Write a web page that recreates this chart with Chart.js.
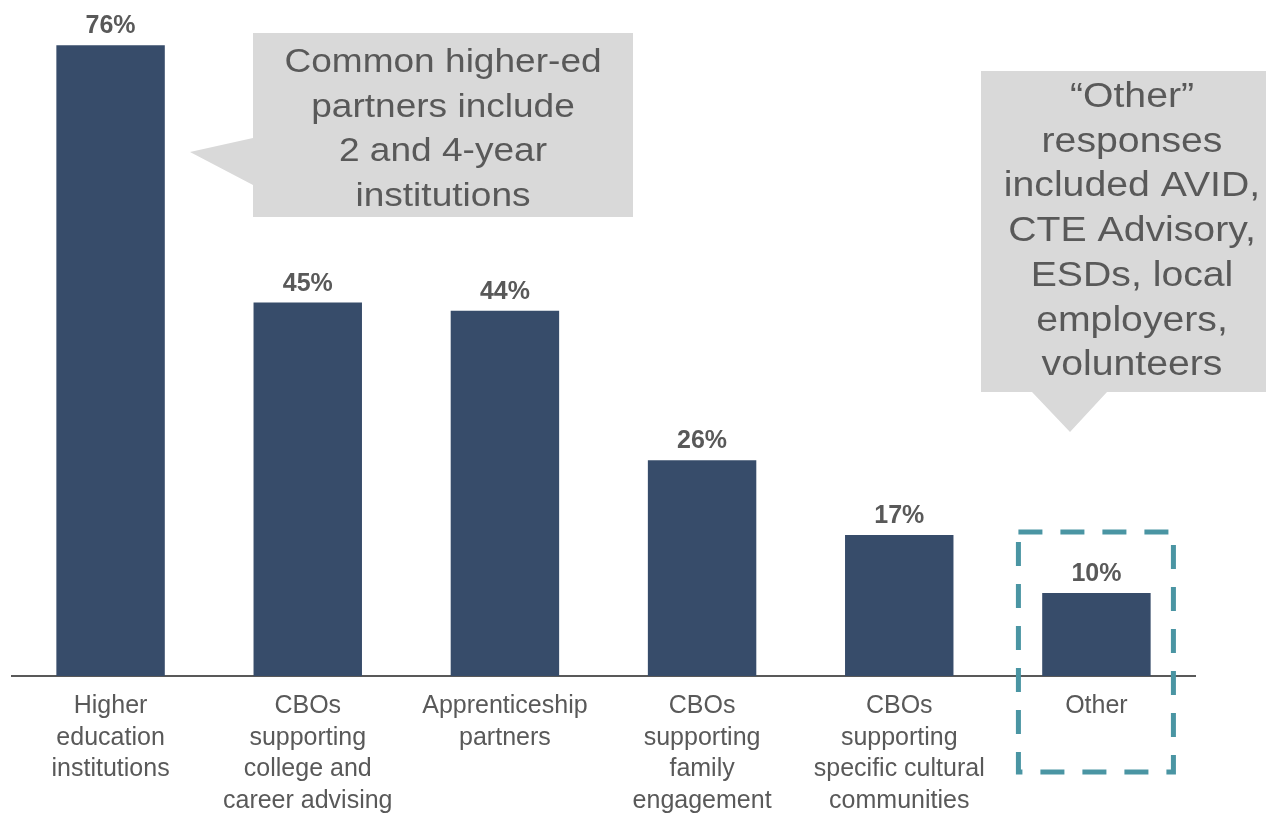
<!DOCTYPE html>
<html>
<head>
<meta charset="utf-8">
<script src="https://cdn.jsdelivr.net/npm/chart.js@4.4.1/dist/chart.umd.min.js"></script>
<style>
  html, body { margin: 0; padding: 0; background: #fff; }
  #wrap { width: 1266px; height: 813px; }
</style>
</head>
<body>
<div id="wrap"><canvas id="partnersChart"></canvas></div>
<script>
// Partner types and share of respondents (%)
const categories = [
  ["Higher", "education", "institutions"],
  ["CBOs", "supporting", "college and", "career advising"],
  ["Apprenticeship", "partners"],
  ["CBOs", "supporting", "family", "engagement"],
  ["CBOs", "supporting", "specific cultural", "communities"],
  ["Other"],
];
const shares = [76, 45, 44, 26, 17, 10];

const higherEdNote = ["Common higher-ed", "partners include", "2 and 4-year", "institutions"];
const otherNote = ["\u201cOther\u201d", "responses", "included AVID,", "CTE Advisory,", "ESDs, local", "employers,", "volunteers"];

const TEXT_GREY = "#595959";
const BAR_BLUE = "#374c6a";
const NOTE_FILL = "#d9d9d9";
const TEAL = "#4a95a3";
const FONT = "'Liberation Sans', Arial, sans-serif";

// Percent labels above each bar
const valueLabels = {
  id: "valueLabels",
  afterDatasetsDraw(chart) {
    const ctx = chart.ctx;
    const meta = chart.getDatasetMeta(0);
    ctx.save();
    ctx.font = `bold 25px ${FONT}`;
    ctx.fillStyle = TEXT_GREY;
    ctx.textAlign = "center";
    ctx.textBaseline = "alphabetic";
    meta.data.forEach((bar, i) => {
      ctx.fillText(shares[i] + "%", bar.x, bar.y - 12);
    });
    ctx.restore();
  },
};

// centred lines, slightly widened like the slide text
const drawNoteText = (ctx, lines, cx, firstBaseline, step, size, stretch) => {
  ctx.font = `${size}px ${FONT}`;
  ctx.fillStyle = TEXT_GREY;
  ctx.textAlign = "center";
  ctx.textBaseline = "alphabetic";
  lines.forEach((line, i) => {
    ctx.save();
    ctx.translate(cx, firstBaseline + i * step);
    ctx.scale(stretch, 1);
    ctx.fillText(line, 0, 0);
    ctx.restore();
  });
};

// Speech-bubble notes and the dashed box around "Other"
const notes = {
  id: "notes",
  afterDraw(chart) {
    const ctx = chart.ctx;
    const x = chart.scales.x;
    ctx.save();

    // bubble pointing at the higher-ed bar
    ctx.fillStyle = NOTE_FILL;
    ctx.beginPath();
    ctx.moveTo(253, 33);
    ctx.lineTo(633, 33);
    ctx.lineTo(633, 217);
    ctx.lineTo(253, 217);
    ctx.lineTo(253, 185);
    ctx.lineTo(190, 152);
    ctx.lineTo(253, 138);
    ctx.closePath();
    ctx.fill();
    drawNoteText(ctx, higherEdNote, 443, 72, 44.5, 34, 1.09);

    // bubble pointing down at "Other"
    ctx.fillStyle = NOTE_FILL;
    ctx.beginPath();
    ctx.moveTo(981, 71);
    ctx.lineTo(1266, 71);
    ctx.lineTo(1266, 392);
    ctx.lineTo(1107, 392);
    ctx.lineTo(1070, 432);
    ctx.lineTo(1032, 392);
    ctx.lineTo(981, 392);
    ctx.closePath();
    ctx.fill();
    drawNoteText(ctx, otherNote, 1132, 107, 44.7, 35, 1.12);

    // dashed highlight around the last category
    const cx = x.getPixelForValue(5);
    ctx.strokeStyle = TEAL;
    ctx.lineWidth = 5;
    ctx.setLineDash([24, 18]);
    ctx.strokeRect(cx - 78, 532, 155, 240);
    ctx.restore();
  },
};

new Chart(document.getElementById("partnersChart"), {
  type: "bar",
  data: {
    labels: categories,
    datasets: [
      {
        data: shares,
        backgroundColor: BAR_BLUE,
        barPercentage: 0.55,
        categoryPercentage: 1,
      },
    ],
  },
  options: {
    responsive: true,
    maintainAspectRatio: false,
    animation: false,
    layout: { padding: { left: 12, right: 71, top: 12, bottom: 0 } },
    plugins: {
      legend: { display: false },
      tooltip: { enabled: false },
    },
    scales: {
      x: {
        grid: { display: false, drawTicks: false },
        border: { display: true, color: TEXT_GREY, width: 2 },
        afterFit: (scale) => {
          scale.height = 137;
        },
        ticks: {
          color: TEXT_GREY,
          padding: 14,
          maxRotation: 0,
          autoSkip: false,
          font: { family: FONT, size: 25, lineHeight: 1.27 },
        },
      },
      y: {
        display: false,
        min: 0,
        max: 80,
      },
    },
  },
  plugins: [valueLabels, notes],
});
</script>
</body>
</html>
